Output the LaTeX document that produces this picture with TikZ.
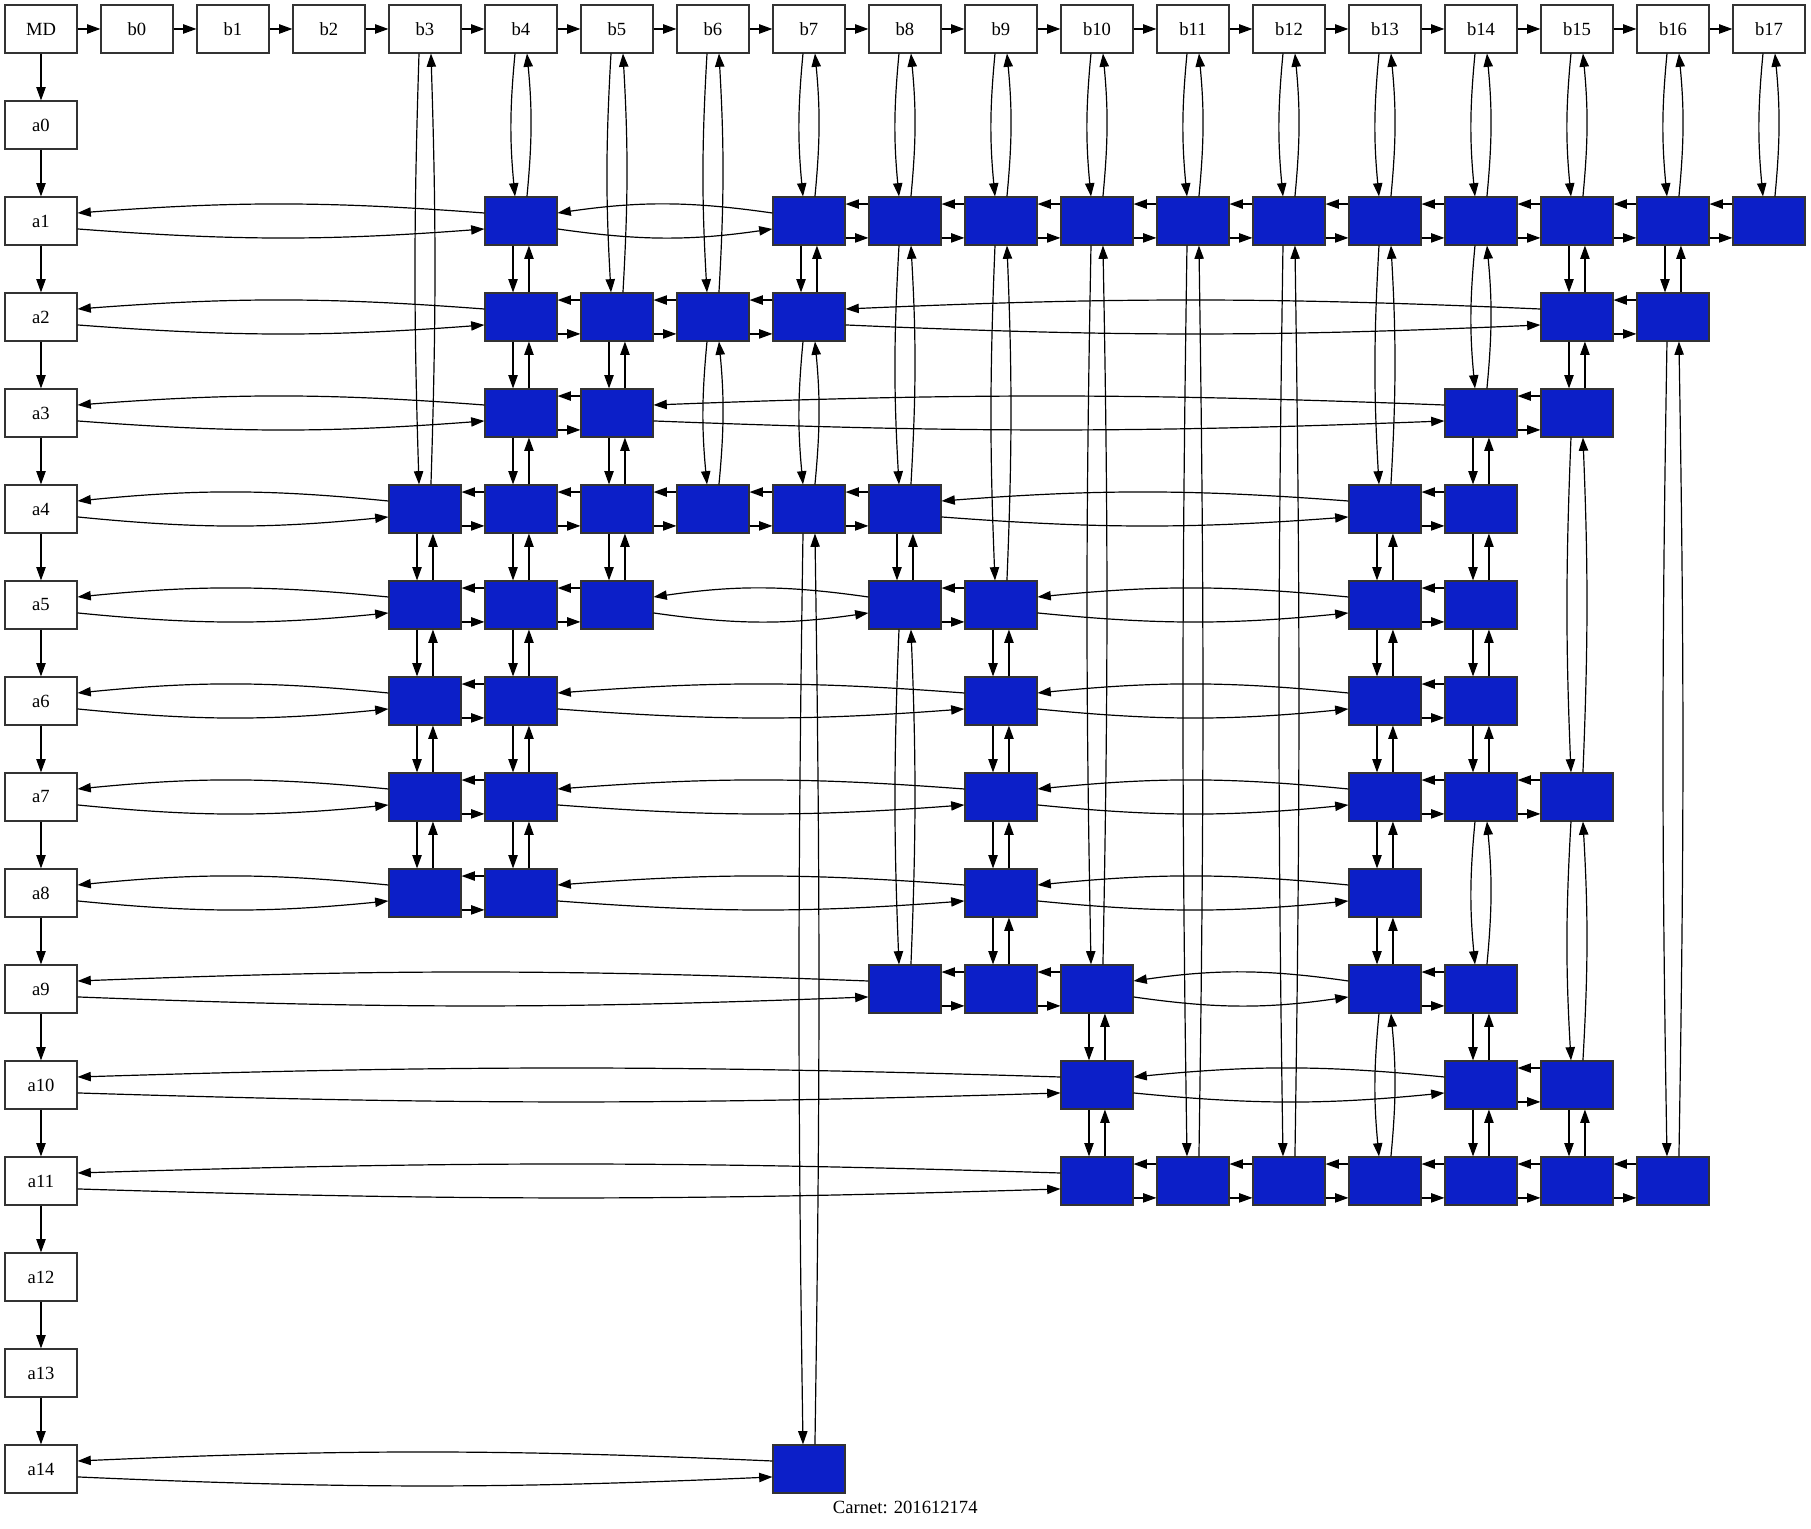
\documentclass[tikz,border=0pt]{standalone}
\usepackage{fontspec}
\setmainfont{Liberation Serif}
\usetikzlibrary{arrows.meta,positioning,calc}
\definecolor{cellblue}{HTML}{0C1FC8}
\definecolor{inkgray}{HTML}{333333}

\begin{document}
\begin{tikzpicture}[
    x=1in, y=-1in,
    font=\fontsize{14pt}{16pt}\selectfont,
    >={Triangle[length=10pt, width=7pt]},
    head/.style={draw=inkgray, rectangle, line width=0.8pt, minimum width=0.75in, minimum height=0.5in, inner sep=0pt},
    cell/.style={head, fill=cellblue},
    link/.style={->, line width=0.9pt, black},
]
    \useasboundingbox (0, 0) rectangle (18.865, 15.927);

    \begin{scope}[shift={(0.427, 0.302)}]
    % --- Header nodes ---
    \node[head] (MD) at (0, 0) {MD};
    \foreach \col in {0,...,17}
        \node[head] (b\col) at (\col+1, 0) {b\col};
    \foreach \row in {0,...,14}
        \node[head] (a\row) at (0, \row+1) {a\row};

    % --- Matrix cells (row / columns) ---
    \foreach \row/\cols in {1/{4,7,8,9,10,11,12,13,14,15,16,17}, 2/{4,5,6,7,15,16},
            3/{4,5,14,15}, 4/{3,4,5,6,7,8,13,14}, 5/{3,4,5,8,9,13,14},
            6/{3,4,9,13,14}, 7/{3,4,9,13,14,15}, 8/{3,4,9,13}, 9/{8,9,10,13,14},
            10/{10,14,15}, 11/{10,11,12,13,14,15,16}, 14/{7}} {
        \foreach \col in \cols
            \node[cell] (c\row-\col) at (\col+1, \row+1) {};
    }
    \end{scope}

    % --- Header chains ---
    \draw[link] (MD) -- (b0);
    \foreach \col [remember=\col as \prev (initially 0)] in {1,...,17}
        \draw[link] (b\prev) -- (b\col);
    \draw[link] (MD) -- (a0);
    \foreach \row [remember=\row as \prev (initially 0)] in {1,...,14}
        \draw[link] (a\prev) -- (a\row);

    % --- Row links (right below, left above) ---
    \foreach \row/\cols in {1/{4,7,8,9,10,11,12,13,14,15,16,17}, 2/{4,5,6,7,15,16},
            3/{4,5,14,15}, 4/{3,4,5,6,7,8,13,14}, 5/{3,4,5,8,9,13,14},
            6/{3,4,9,13,14}, 7/{3,4,9,13,14,15}, 8/{3,4,9,13}, 9/{8,9,10,13,14},
            10/{10,14,15}, 11/{10,11,12,13,14,15,16}, 14/{7}} {
        \foreach \col [remember=\col as \prev (initially -1)] in \cols {
            \ifnum\prev<0 \def\from{a\row}\else \def\from{c\row-\prev}\fi
            \pgfmathtruncatemacro\gap{\col-\prev}
            \ifnum\gap=1
                \draw[link] ([yshift=-12.75pt]\from.east) -- ([yshift=-12.75pt]c\row-\col.west);
                \draw[link] ([yshift=12.75pt]c\row-\col.west) -- ([yshift=12.75pt]\from.east);
            \else
                \pgfmathsetmacro\bend{asin(min(1, 6.75/(0.2936*(72*\gap-54))))}
                \draw[link] ([yshift=-6pt]\from.east) to[bend right=\bend] ([yshift=-6pt]c\row-\col.west);
                \draw[link] ([yshift=6pt]c\row-\col.west) to[bend right=\bend] ([yshift=6pt]\from.east);
            \fi
        }
    }

    % --- Column links (down left, up right) ---
    \foreach \col/\rows in {3/{4,5,6,7,8}, 4/{1,2,3,4,5,6,7,8}, 5/{2,3,4,5}, 6/{2,4},
            7/{1,2,4,14}, 8/{1,4,5,9}, 9/{1,5,6,7,8,9}, 10/{1,9,10,11}, 11/{1,11},
            12/{1,11}, 13/{1,4,5,6,7,8,9,11}, 14/{1,3,4,5,6,7,9,10,11},
            15/{1,2,3,7,10,11}, 16/{1,2,11}, 17/{1}} {
        \foreach \row [remember=\row as \prev (initially -1)] in \rows {
            \ifnum\prev<0 \def\from{b\col}\else \def\from{c\prev-\col}\fi
            \pgfmathtruncatemacro\gap{\row-\prev}
            \ifnum\gap=1
                \draw[link] ([xshift=-6pt]\from.south) -- ([xshift=-6pt]c\row-\col.north);
                \draw[link] ([xshift=6pt]c\row-\col.north) -- ([xshift=6pt]\from.south);
            \else
                \pgfmathsetmacro\bend{asin(min(1, 3/(0.2936*(72*\gap-36))))}
                \draw[link] ([xshift=-4.5pt]\from.south) to[bend right=\bend] ([xshift=-4.5pt]c\row-\col.north);
                \draw[link] ([xshift=4.5pt]c\row-\col.north) to[bend right=\bend] ([xshift=4.5pt]\from.south);
            \fi
        }
    }

    % --- Caption ---
    \node (carnet) at (9.43, 15.70) {Carnet: 201612174};

\end{tikzpicture}
\end{document}
